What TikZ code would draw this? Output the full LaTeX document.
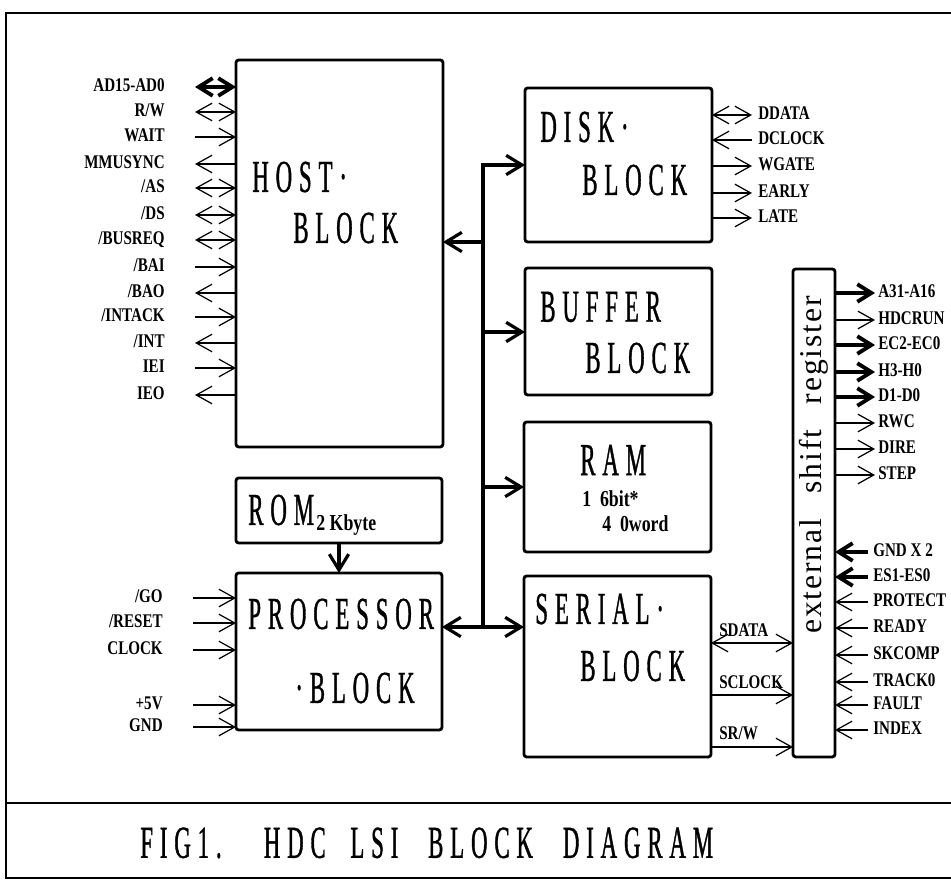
\documentclass[tikz,border=0pt]{standalone}
\usepackage{fontspec}
\setmainfont{Liberation Serif}
\newfontfamily\blockfont[FakeStretch=0.5,LetterSpace=15,FakeBold=0.8]{Liberation Serif}
\newfontfamily\signalfont[FakeStretch=0.78]{Liberation Serif}
\newfontfamily\regfont[LetterSpace=6]{Liberation Serif}
\usetikzlibrary{arrows.meta,positioning,calc}

\begin{document}
\begin{tikzpicture}[
    x=0.02cm, y=-0.02cm,
    every node/.style={inner sep=0pt},
    box/.style={draw, line width=1.6pt, rounded corners=1.5pt, anchor=north west,
                outer sep=0pt, minimum width=3.74cm},
    blocktext/.style={font=\blockfont\fontsize{26}{26}\selectfont, anchor=west},
    subtext/.style={font=\signalfont\bfseries\fontsize{13}{13}\selectfont, anchor=west},
    sigtext/.style={font=\signalfont\bfseries\fontsize{11}{12}\selectfont},
    wire/.style={line width=0.7pt, >={Straight Barb[length=9pt,width=10pt]}},
    fat/.style={line width=2.2pt, >={Straight Barb[length=8pt,width=10pt]}},
    bus/.style={line width=1.8pt, >={Straight Barb[length=9pt,width=11pt]}},
    tipend/.style={wire,->}, tipstart/.style={wire,<-}, tipboth/.style={wire,<->},
    fatend/.style={fat,->}, fatstart/.style={fat,<-}, fatboth/.style={fat,<->}
]
\useasboundingbox (0,0) rectangle (951,882);

% Frame and caption strip
\draw[line width=1.3pt] (951,13) -- (6,13) -- (6,878) -- (951,878);
\draw[line width=1.3pt] (6,803) -- (951,803);
\node[blocktext] (figT) at (140,843)
    {FIG1.\hspace{24pt}HDC\hspace{14pt}LSI\hspace{17pt}BLOCK\hspace{17pt}DIAGRAM};

% Blocks
\node[box, minimum width=4.14cm, minimum height=7.74cm] (host) at (236,60) {};
\node[box, minimum width=4.12cm, minimum height=1.30cm] (rom) at (236,478) {};
\node[box, minimum width=4.12cm, minimum height=3.14cm] (proc) at (236,573) {};
\node[box, minimum height=3.08cm] (disk) at (525,88) {};
\node[box, minimum height=2.54cm] (buffer) at (525,268) {};
\node[box, minimum height=2.60cm] (ram) at (524,422) {};
\node[box, minimum height=3.62cm] (serial) at (524,576) {};
\node[box, minimum width=0.84cm, minimum height=9.76cm] (reg) at (793,269) {};

% Block texts
\node[blocktext] (hostA) at (252,177) {HOST·};
\node[blocktext] (hostB) at (293,228) {BLOCK};
\node[blocktext] (romA)  at (248,510) {ROM};
\node[subtext, anchor=base west] (romB) at (316,530) {2 Kbyte};
\node[blocktext] (procA) at (248,614) {PROCESSOR};
\node[blocktext] (procB) at (295,688) {·BLOCK};
\node[blocktext] (diskA) at (540,127) {DISK·};
\node[blocktext] (diskB) at (582,180) {BLOCK};
\node[blocktext] (bufA)  at (540,307) {BUFFER};
\node[blocktext] (bufB)  at (585,358) {BLOCK};
\node[blocktext] (ramA)  at (580,460) {RAM};
\node[subtext] (ramB) at (582,499) {1\hspace{5pt}6bit*};
\node[subtext] (ramC) at (602,524) {4\hspace{5pt}0word};
\node[blocktext] (serA)  at (535,609) {SERIAL·};
\node[blocktext] (serB)  at (580,666) {BLOCK};
\node[rotate=90, font=\regfont\fontsize{18}{18}\selectfont] (regT) at (814,465)
    {external\hspace{0.8em}shift\hspace{0.8em}register};

% Internal bus
\coordinate (jtop)  at (483,165);
\coordinate (jhost) at (483,242);
\coordinate (jbuf)  at (483,332);
\coordinate (jram)  at (483,487);
\coordinate (jproc) at (483,627);
\draw[bus,->] (jproc) -- (jtop) -- (jtop -| disk.west);
\draw[bus,->] (jhost) -- (jhost -| host.east);
\draw[bus,->] (jbuf) -- (jbuf -| buffer.west);
\draw[bus,->] (jram) -- (jram -| ram.west);
\draw[bus,<->] (jproc -| proc.east) -- (jproc -| serial.west);
\draw[bus,->] (rom.south) -- (proc.north);

% Host interface
\foreach \yy/\txt/\kind [count=\i] in {87/AD15-AD0/fatboth, 112/{R/W}/tipboth,
    137/WAIT/tipend, 164/MMUSYNC/tipstart, 188/{/AS}/tipboth, 215/{/DS}/tipboth,
    240/{/BUSREQ}/tipboth, 267/{/BAI}/tipend, 293/{/BAO}/tipstart,
    317/{/INTACK}/tipend, 343/{/INT}/tipstart, 368/IEI/tipend, 395/IEO/tipstart}{
  \node[sigtext, anchor=mid east] (hsig\i) at (165,\yy) {\txt};
  \coordinate (hend\i) at (195,\yy);
  \draw[\kind] (hend\i) -- (hend\i -| host.west);
}

% Processor inputs
\foreach \yy/\txt [count=\i] in {598/{/GO}, 623/{/RESET}, 650/CLOCK, 705/+5V, 727/GND}{
  \node[sigtext, anchor=mid east] (psig\i) at (163,\yy) {\txt};
  \coordinate (pend\i) at (193,\yy);
  \draw[tipend] (pend\i) -- (pend\i -| proc.west);
}

% Disk interface
\foreach \yy/\txt/\kind [count=\i] in {115/DDATA/tipboth, 140/DCLOCK/tipstart,
    166/WGATE/tipend, 193/EARLY/tipend, 218/LATE/tipend}{
  \coordinate (dend\i) at (752,\yy);
  \node[sigtext, anchor=mid west] (dsig\i) at (758,\yy) {\txt};
  \draw[\kind] (dend\i -| disk.east) -- (dend\i);
}

% Serial to shift register
\coordinate (sdat) at (750,643);
\coordinate (sclk) at (750,695);
\coordinate (srw)  at (750,747);
\draw[tipboth] (sdat -| serial.east) -- (sdat -| reg.west);
\draw[tipend] (sclk -| serial.east) -- (sclk -| reg.west);
\draw[tipend] (srw -| serial.east) -- (srw -| reg.west);
\node[sigtext, anchor=base west] (sdatT) at (719,636) {SDATA};
\node[sigtext, anchor=base west] (sclkT) at (719,688) {SCLOCK};
\node[sigtext, anchor=base west] (srwT)  at (719,739) {SR/W};

% Shift register outputs
\foreach \yy/\txt/\kind [count=\i] in {293/A31-A16/fatend, 320/HDCRUN/tipend,
    345/EC2-EC0/fatend, 372/H3-H0/fatend, 397/D1-D0/fatend, 423/RWC/tipend,
    449/DIRE/tipend, 475/STEP/tipend}{
  \coordinate (oend\i) at (875,\yy);
  \node[sigtext, anchor=mid west] (osig\i) at (878,\yy) {\txt};
  \draw[\kind] (oend\i -| reg.east) -- (oend\i);
}

% Shift register inputs
\foreach \yy/\txt/\kind [count=\i] in {552/GND X 2/fatstart, 577/ES1-ES0/fatstart,
    602/PROTECT/tipstart, 628/READY/tipstart, 655/SKCOMP/tipstart,
    682/TRACK0/tipstart, 705/FAULT/tipstart, 730/INDEX/tipstart}{
  \coordinate (iend\i) at (868,\yy);
  \node[sigtext, anchor=mid west] (isig\i) at (873,\yy) {\txt};
  \draw[\kind] (iend\i -| reg.east) -- (iend\i);
}

\end{tikzpicture}
\end{document}
